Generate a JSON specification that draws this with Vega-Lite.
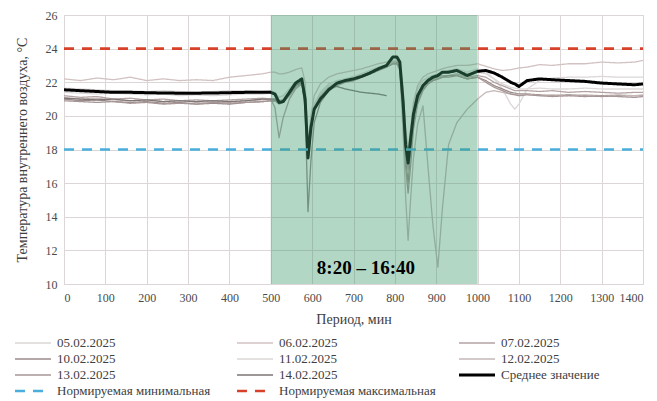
{
  "$schema": "https://vega.github.io/schema/vega-lite/v6.json",
  "width": 579,
  "height": 269,
  "autosize": {"type": "none"},
  "padding": {"left": 64, "top": 15, "right": 14, "bottom": 117},
  "background": "white",
  "config": {
    "font": "Liberation Serif",
    "view": {"stroke": "#d9d4d4", "strokeWidth": 1},
    "axis": {
      "labelFont": "Liberation Serif",
      "titleFont": "Liberation Serif",
      "labelFontSize": 12,
      "labelColor": "#4a4a4a",
      "titleColor": "#404040",
      "titleFontWeight": "normal",
      "titleFontSize": 14,
      "gridColor": "#ddd6d6",
      "gridWidth": 1,
      "domain": false,
      "ticks": false,
      "labelOverlap": false
    },
    "legend": {
      "title": null, "orient": "none", "legendX": -51, "legendY": 322, "columns": 3, "direction": "horizontal",
      "symbolType": "stroke", "symbolSize": 1300, "labelOffset": 4, "columnPadding": 21, "rowPadding": 3,
      "gridAlign": "all", "clipHeight": 12, "labelLimit": 0,
      "labelFont": "Liberation Serif", "labelFontSize": 13, "labelColor": "#404040"
    }
  },
  "datasets": {
    "series": [
      {"s":"05.02.2025","t":0,"v":21.65},{"s":"05.02.2025","t":40,"v":21.6},{"s":"05.02.2025","t":80,"v":21.55},{"s":"05.02.2025","t":120,"v":21.5},{"s":"05.02.2025","t":160,"v":21.5},{"s":"05.02.2025","t":200,"v":21.45},{"s":"05.02.2025","t":240,"v":21.5},{"s":"05.02.2025","t":280,"v":21.45},{"s":"05.02.2025","t":320,"v":21.4},{"s":"05.02.2025","t":360,"v":21.45},{"s":"05.02.2025","t":400,"v":21.5},{"s":"05.02.2025","t":440,"v":21.5},{"s":"05.02.2025","t":480,"v":21.45},{"s":"05.02.2025","t":500,"v":21.5},
      {"s":"05.02.2025","t":510,"v":21.4},{"s":"05.02.2025","t":520,"v":21.1},{"s":"05.02.2025","t":530,"v":21.2},{"s":"05.02.2025","t":545,"v":21.6},{"s":"05.02.2025","t":560,"v":22.0},{"s":"05.02.2025","t":575,"v":22.2},{"s":"05.02.2025","t":583,"v":21.2},{"s":"05.02.2025","t":590,"v":17.9},{"s":"05.02.2025","t":597,"v":19.6},{"s":"05.02.2025","t":605,"v":20.7},{"s":"05.02.2025","t":620,"v":21.4},{"s":"05.02.2025","t":640,"v":21.9},{"s":"05.02.2025","t":660,"v":22.1},{"s":"05.02.2025","t":680,"v":22.2},{"s":"05.02.2025","t":700,"v":22.35},{"s":"05.02.2025","t":720,"v":22.5},{"s":"05.02.2025","t":740,"v":22.7},{"s":"05.02.2025","t":760,"v":22.9},{"s":"05.02.2025","t":780,"v":23.0},{"s":"05.02.2025","t":795,"v":23.2},{"s":"05.02.2025","t":805,"v":23.2},{"s":"05.02.2025","t":812,"v":23.0},{"s":"05.02.2025","t":820,"v":21.2},{"s":"05.02.2025","t":826,"v":19.0},{"s":"05.02.2025","t":832,"v":17.9},{"s":"05.02.2025","t":838,"v":19.0},{"s":"05.02.2025","t":845,"v":20.6},{"s":"05.02.2025","t":855,"v":21.6},{"s":"05.02.2025","t":868,"v":22.1},{"s":"05.02.2025","t":880,"v":22.3},{"s":"05.02.2025","t":892,"v":22.4},{"s":"05.02.2025","t":904,"v":22.5},{"s":"05.02.2025","t":915,"v":22.6},{"s":"05.02.2025","t":930,"v":22.6},{"s":"05.02.2025","t":950,"v":22.7},{"s":"05.02.2025","t":975,"v":22.5},{"s":"05.02.2025","t":1000,"v":22.6},
      {"s":"05.02.2025","t":1020,"v":22.5},{"s":"05.02.2025","t":1040,"v":22.2},{"s":"05.02.2025","t":1060,"v":21.6},{"s":"05.02.2025","t":1080,"v":20.7},{"s":"05.02.2025","t":1090,"v":20.4},{"s":"05.02.2025","t":1100,"v":20.7},{"s":"05.02.2025","t":1120,"v":21.6},{"s":"05.02.2025","t":1150,"v":22.1},{"s":"05.02.2025","t":1180,"v":22.25},{"s":"05.02.2025","t":1220,"v":22.3},{"s":"05.02.2025","t":1260,"v":22.3},{"s":"05.02.2025","t":1300,"v":22.35},{"s":"05.02.2025","t":1340,"v":22.3},{"s":"05.02.2025","t":1380,"v":22.3},{"s":"05.02.2025","t":1400,"v":22.3},

      {"s":"06.02.2025","t":0,"v":22.2},{"s":"06.02.2025","t":40,"v":22.1},{"s":"06.02.2025","t":80,"v":22.25},{"s":"06.02.2025","t":120,"v":22.15},{"s":"06.02.2025","t":160,"v":22.3},{"s":"06.02.2025","t":200,"v":22.1},{"s":"06.02.2025","t":240,"v":22.2},{"s":"06.02.2025","t":280,"v":22.1},{"s":"06.02.2025","t":320,"v":22.15},{"s":"06.02.2025","t":360,"v":22.1},{"s":"06.02.2025","t":400,"v":22.3},{"s":"06.02.2025","t":440,"v":22.4},{"s":"06.02.2025","t":480,"v":22.5},{"s":"06.02.2025","t":500,"v":22.6},
      {"s":"06.02.2025","t":510,"v":22.6},{"s":"06.02.2025","t":520,"v":22.5},{"s":"06.02.2025","t":530,"v":22.5},{"s":"06.02.2025","t":545,"v":22.6},{"s":"06.02.2025","t":560,"v":22.75},{"s":"06.02.2025","t":575,"v":22.85},{"s":"06.02.2025","t":583,"v":22.0},{"s":"06.02.2025","t":590,"v":18.3},{"s":"06.02.2025","t":597,"v":20.0},{"s":"06.02.2025","t":605,"v":21.2},{"s":"06.02.2025","t":620,"v":21.9},{"s":"06.02.2025","t":640,"v":22.3},{"s":"06.02.2025","t":660,"v":22.5},{"s":"06.02.2025","t":680,"v":22.6},{"s":"06.02.2025","t":700,"v":22.7},{"s":"06.02.2025","t":720,"v":22.8},{"s":"06.02.2025","t":740,"v":22.95},{"s":"06.02.2025","t":760,"v":23.1},{"s":"06.02.2025","t":780,"v":23.2},{"s":"06.02.2025","t":795,"v":23.3},{"s":"06.02.2025","t":805,"v":23.3},{"s":"06.02.2025","t":812,"v":23.2},{"s":"06.02.2025","t":820,"v":21.6},{"s":"06.02.2025","t":826,"v":19.2},{"s":"06.02.2025","t":832,"v":18.0},{"s":"06.02.2025","t":838,"v":19.2},{"s":"06.02.2025","t":845,"v":20.8},{"s":"06.02.2025","t":855,"v":21.8},{"s":"06.02.2025","t":868,"v":22.3},{"s":"06.02.2025","t":880,"v":22.5},{"s":"06.02.2025","t":892,"v":22.6},{"s":"06.02.2025","t":904,"v":22.7},{"s":"06.02.2025","t":915,"v":22.8},{"s":"06.02.2025","t":930,"v":22.9},{"s":"06.02.2025","t":950,"v":23.0},{"s":"06.02.2025","t":975,"v":23.0},{"s":"06.02.2025","t":1000,"v":23.1},
      {"s":"06.02.2025","t":1020,"v":22.95},{"s":"06.02.2025","t":1040,"v":22.8},{"s":"06.02.2025","t":1060,"v":22.7},{"s":"06.02.2025","t":1080,"v":22.75},{"s":"06.02.2025","t":1090,"v":22.8},{"s":"06.02.2025","t":1100,"v":22.85},{"s":"06.02.2025","t":1120,"v":22.9},{"s":"06.02.2025","t":1150,"v":23.05},{"s":"06.02.2025","t":1180,"v":23.0},{"s":"06.02.2025","t":1220,"v":23.1},{"s":"06.02.2025","t":1260,"v":23.1},{"s":"06.02.2025","t":1300,"v":23.2},{"s":"06.02.2025","t":1340,"v":23.15},{"s":"06.02.2025","t":1380,"v":23.2},{"s":"06.02.2025","t":1400,"v":23.3},

      {"s":"07.02.2025","t":0,"v":21.2},{"s":"07.02.2025","t":40,"v":21.1},{"s":"07.02.2025","t":80,"v":21.15},{"s":"07.02.2025","t":120,"v":21.0},{"s":"07.02.2025","t":160,"v":21.05},{"s":"07.02.2025","t":200,"v":20.95},{"s":"07.02.2025","t":240,"v":21.0},{"s":"07.02.2025","t":280,"v":20.9},{"s":"07.02.2025","t":320,"v":20.95},{"s":"07.02.2025","t":360,"v":20.9},{"s":"07.02.2025","t":400,"v":20.95},{"s":"07.02.2025","t":440,"v":21.0},{"s":"07.02.2025","t":480,"v":21.05},{"s":"07.02.2025","t":500,"v":21.0},
      {"s":"07.02.2025","t":510,"v":20.5},{"s":"07.02.2025","t":520,"v":18.7},{"s":"07.02.2025","t":530,"v":19.9},{"s":"07.02.2025","t":545,"v":21.0},{"s":"07.02.2025","t":560,"v":21.6},{"s":"07.02.2025","t":575,"v":21.9},{"s":"07.02.2025","t":583,"v":20.8},{"s":"07.02.2025","t":590,"v":17.8},{"s":"07.02.2025","t":597,"v":19.3},{"s":"07.02.2025","t":605,"v":20.4},{"s":"07.02.2025","t":620,"v":21.1},{"s":"07.02.2025","t":640,"v":21.6},{"s":"07.02.2025","t":660,"v":21.9},{"s":"07.02.2025","t":680,"v":22.0},{"s":"07.02.2025","t":700,"v":22.1},{"s":"07.02.2025","t":720,"v":22.3},{"s":"07.02.2025","t":740,"v":22.5},{"s":"07.02.2025","t":760,"v":22.7},{"s":"07.02.2025","t":780,"v":22.9},{"s":"07.02.2025","t":795,"v":23.1},{"s":"07.02.2025","t":805,"v":23.1},{"s":"07.02.2025","t":812,"v":22.9},{"s":"07.02.2025","t":820,"v":20.6},{"s":"07.02.2025","t":826,"v":18.0},{"s":"07.02.2025","t":832,"v":16.8},{"s":"07.02.2025","t":838,"v":18.3},{"s":"07.02.2025","t":845,"v":19.9},{"s":"07.02.2025","t":855,"v":21.0},{"s":"07.02.2025","t":868,"v":21.7},{"s":"07.02.2025","t":880,"v":22.0},{"s":"07.02.2025","t":892,"v":22.2},{"s":"07.02.2025","t":904,"v":22.3},{"s":"07.02.2025","t":915,"v":22.4},{"s":"07.02.2025","t":930,"v":22.4},{"s":"07.02.2025","t":950,"v":22.5},{"s":"07.02.2025","t":975,"v":22.3},{"s":"07.02.2025","t":1000,"v":22.4},
      {"s":"07.02.2025","t":1020,"v":22.3},{"s":"07.02.2025","t":1040,"v":22.0},{"s":"07.02.2025","t":1060,"v":21.8},{"s":"07.02.2025","t":1080,"v":21.6},{"s":"07.02.2025","t":1090,"v":21.5},{"s":"07.02.2025","t":1100,"v":21.5},{"s":"07.02.2025","t":1120,"v":21.5},{"s":"07.02.2025","t":1150,"v":21.45},{"s":"07.02.2025","t":1180,"v":21.5},{"s":"07.02.2025","t":1220,"v":21.4},{"s":"07.02.2025","t":1260,"v":21.45},{"s":"07.02.2025","t":1300,"v":21.4},{"s":"07.02.2025","t":1340,"v":21.35},{"s":"07.02.2025","t":1380,"v":21.4},{"s":"07.02.2025","t":1400,"v":21.4},

      {"s":"10.02.2025","t":0,"v":21.0},{"s":"10.02.2025","t":40,"v":20.9},{"s":"10.02.2025","t":80,"v":20.95},{"s":"10.02.2025","t":120,"v":20.85},{"s":"10.02.2025","t":160,"v":20.8},{"s":"10.02.2025","t":200,"v":20.85},{"s":"10.02.2025","t":240,"v":20.75},{"s":"10.02.2025","t":280,"v":20.8},{"s":"10.02.2025","t":320,"v":20.7},{"s":"10.02.2025","t":360,"v":20.75},{"s":"10.02.2025","t":400,"v":20.7},{"s":"10.02.2025","t":440,"v":20.8},{"s":"10.02.2025","t":480,"v":20.85},{"s":"10.02.2025","t":500,"v":20.9},
      {"s":"10.02.2025","t":510,"v":20.9},{"s":"10.02.2025","t":520,"v":20.8},{"s":"10.02.2025","t":530,"v":20.9},{"s":"10.02.2025","t":545,"v":21.3},{"s":"10.02.2025","t":560,"v":21.8},{"s":"10.02.2025","t":575,"v":22.0},{"s":"10.02.2025","t":583,"v":20.5},{"s":"10.02.2025","t":590,"v":14.3},{"s":"10.02.2025","t":597,"v":17.3},{"s":"10.02.2025","t":605,"v":19.6},{"s":"10.02.2025","t":620,"v":20.8},{"s":"10.02.2025","t":640,"v":21.5},{"s":"10.02.2025","t":660,"v":21.9},{"s":"10.02.2025","t":680,"v":22.1},{"s":"10.02.2025","t":700,"v":22.2},{"s":"10.02.2025","t":720,"v":22.4},{"s":"10.02.2025","t":740,"v":22.6},{"s":"10.02.2025","t":760,"v":22.8},{"s":"10.02.2025","t":780,"v":23.0},{"s":"10.02.2025","t":795,"v":23.2},{"s":"10.02.2025","t":805,"v":23.2},{"s":"10.02.2025","t":812,"v":22.9},{"s":"10.02.2025","t":820,"v":20.4},{"s":"10.02.2025","t":826,"v":17.5},{"s":"10.02.2025","t":832,"v":16.0},{"s":"10.02.2025","t":838,"v":17.8},{"s":"10.02.2025","t":845,"v":19.6},{"s":"10.02.2025","t":855,"v":20.9},{"s":"10.02.2025","t":868,"v":21.6},{"s":"10.02.2025","t":880,"v":21.9},{"s":"10.02.2025","t":892,"v":22.1},{"s":"10.02.2025","t":904,"v":22.2},{"s":"10.02.2025","t":915,"v":22.3},{"s":"10.02.2025","t":930,"v":22.4},{"s":"10.02.2025","t":950,"v":22.4},{"s":"10.02.2025","t":975,"v":22.2},{"s":"10.02.2025","t":1000,"v":22.3},
      {"s":"10.02.2025","t":1020,"v":22.1},{"s":"10.02.2025","t":1040,"v":21.8},{"s":"10.02.2025","t":1060,"v":21.6},{"s":"10.02.2025","t":1080,"v":21.4},{"s":"10.02.2025","t":1090,"v":21.35},{"s":"10.02.2025","t":1100,"v":21.3},{"s":"10.02.2025","t":1120,"v":21.3},{"s":"10.02.2025","t":1150,"v":21.25},{"s":"10.02.2025","t":1180,"v":21.2},{"s":"10.02.2025","t":1220,"v":21.25},{"s":"10.02.2025","t":1260,"v":21.2},{"s":"10.02.2025","t":1300,"v":21.15},{"s":"10.02.2025","t":1340,"v":21.2},{"s":"10.02.2025","t":1380,"v":21.2},{"s":"10.02.2025","t":1400,"v":21.2},

      {"s":"11.02.2025","t":0,"v":21.4},{"s":"11.02.2025","t":40,"v":21.35},{"s":"11.02.2025","t":80,"v":21.3},{"s":"11.02.2025","t":120,"v":21.35},{"s":"11.02.2025","t":160,"v":21.3},{"s":"11.02.2025","t":200,"v":21.25},{"s":"11.02.2025","t":240,"v":21.3},{"s":"11.02.2025","t":280,"v":21.2},{"s":"11.02.2025","t":320,"v":21.25},{"s":"11.02.2025","t":360,"v":21.2},{"s":"11.02.2025","t":400,"v":21.25},{"s":"11.02.2025","t":440,"v":21.3},{"s":"11.02.2025","t":480,"v":21.3},{"s":"11.02.2025","t":500,"v":21.35},
      {"s":"11.02.2025","t":510,"v":21.3},{"s":"11.02.2025","t":520,"v":21.1},{"s":"11.02.2025","t":530,"v":21.2},{"s":"11.02.2025","t":545,"v":21.6},{"s":"11.02.2025","t":560,"v":22.0},{"s":"11.02.2025","t":575,"v":22.2},{"s":"11.02.2025","t":583,"v":21.2},{"s":"11.02.2025","t":590,"v":18.0},{"s":"11.02.2025","t":597,"v":19.5},{"s":"11.02.2025","t":605,"v":20.6},{"s":"11.02.2025","t":620,"v":21.3},{"s":"11.02.2025","t":640,"v":21.8},{"s":"11.02.2025","t":660,"v":22.0},{"s":"11.02.2025","t":680,"v":22.2},{"s":"11.02.2025","t":700,"v":22.3},{"s":"11.02.2025","t":720,"v":22.5},{"s":"11.02.2025","t":740,"v":22.7},{"s":"11.02.2025","t":760,"v":22.9},{"s":"11.02.2025","t":780,"v":23.0},{"s":"11.02.2025","t":795,"v":23.3},{"s":"11.02.2025","t":805,"v":23.3},{"s":"11.02.2025","t":812,"v":23.1},{"s":"11.02.2025","t":820,"v":21.0},{"s":"11.02.2025","t":826,"v":18.6},{"s":"11.02.2025","t":832,"v":17.6},{"s":"11.02.2025","t":838,"v":18.8},{"s":"11.02.2025","t":845,"v":20.3},{"s":"11.02.2025","t":855,"v":21.3},{"s":"11.02.2025","t":868,"v":21.9},{"s":"11.02.2025","t":880,"v":22.2},{"s":"11.02.2025","t":892,"v":22.4},{"s":"11.02.2025","t":904,"v":22.5},{"s":"11.02.2025","t":915,"v":22.6},{"s":"11.02.2025","t":930,"v":22.7},{"s":"11.02.2025","t":950,"v":22.8},{"s":"11.02.2025","t":975,"v":22.6},{"s":"11.02.2025","t":1000,"v":22.8},
      {"s":"11.02.2025","t":1020,"v":22.6},{"s":"11.02.2025","t":1040,"v":22.2},{"s":"11.02.2025","t":1060,"v":21.9},{"s":"11.02.2025","t":1080,"v":21.7},{"s":"11.02.2025","t":1090,"v":21.65},{"s":"11.02.2025","t":1100,"v":21.6},{"s":"11.02.2025","t":1120,"v":21.6},{"s":"11.02.2025","t":1150,"v":21.65},{"s":"11.02.2025","t":1180,"v":21.6},{"s":"11.02.2025","t":1220,"v":21.6},{"s":"11.02.2025","t":1260,"v":21.65},{"s":"11.02.2025","t":1300,"v":21.6},{"s":"11.02.2025","t":1340,"v":21.6},{"s":"11.02.2025","t":1380,"v":21.6},{"s":"11.02.2025","t":1400,"v":21.6},

      {"s":"12.02.2025","t":0,"v":21.1},{"s":"12.02.2025","t":40,"v":21.0},{"s":"12.02.2025","t":80,"v":21.05},{"s":"12.02.2025","t":120,"v":20.95},{"s":"12.02.2025","t":160,"v":20.9},{"s":"12.02.2025","t":200,"v":20.95},{"s":"12.02.2025","t":240,"v":20.85},{"s":"12.02.2025","t":280,"v":20.9},{"s":"12.02.2025","t":320,"v":20.8},{"s":"12.02.2025","t":360,"v":20.85},{"s":"12.02.2025","t":400,"v":20.8},{"s":"12.02.2025","t":440,"v":20.9},{"s":"12.02.2025","t":480,"v":20.95},{"s":"12.02.2025","t":500,"v":21.0},
      {"s":"12.02.2025","t":510,"v":21.0},{"s":"12.02.2025","t":520,"v":20.9},{"s":"12.02.2025","t":530,"v":21.0},{"s":"12.02.2025","t":545,"v":21.4},{"s":"12.02.2025","t":560,"v":21.9},{"s":"12.02.2025","t":575,"v":22.1},{"s":"12.02.2025","t":583,"v":20.9},{"s":"12.02.2025","t":590,"v":18.0},{"s":"12.02.2025","t":597,"v":19.4},{"s":"12.02.2025","t":605,"v":20.5},{"s":"12.02.2025","t":620,"v":21.2},{"s":"12.02.2025","t":640,"v":21.7},{"s":"12.02.2025","t":660,"v":21.9},{"s":"12.02.2025","t":680,"v":22.1},{"s":"12.02.2025","t":700,"v":22.2},{"s":"12.02.2025","t":720,"v":22.4},{"s":"12.02.2025","t":740,"v":22.6},{"s":"12.02.2025","t":760,"v":22.8},{"s":"12.02.2025","t":780,"v":23.0},{"s":"12.02.2025","t":795,"v":23.2},{"s":"12.02.2025","t":805,"v":23.1},{"s":"12.02.2025","t":812,"v":22.7},{"s":"12.02.2025","t":820,"v":19.0},{"s":"12.02.2025","t":826,"v":15.2},{"s":"12.02.2025","t":832,"v":12.6},{"s":"12.02.2025","t":838,"v":15.0},{"s":"12.02.2025","t":845,"v":17.5},{"s":"12.02.2025","t":855,"v":19.5},{"s":"12.02.2025","t":868,"v":20.6},{"s":"12.02.2025","t":880,"v":17.0},{"s":"12.02.2025","t":892,"v":13.5},{"s":"12.02.2025","t":904,"v":11.0},{"s":"12.02.2025","t":915,"v":14.5},{"s":"12.02.2025","t":930,"v":18.3},{"s":"12.02.2025","t":950,"v":19.6},{"s":"12.02.2025","t":975,"v":20.4},{"s":"12.02.2025","t":1000,"v":21.0},
      {"s":"12.02.2025","t":1020,"v":21.4},{"s":"12.02.2025","t":1040,"v":21.5},{"s":"12.02.2025","t":1060,"v":21.4},{"s":"12.02.2025","t":1080,"v":21.3},{"s":"12.02.2025","t":1090,"v":21.3},{"s":"12.02.2025","t":1100,"v":21.25},{"s":"12.02.2025","t":1120,"v":21.3},{"s":"12.02.2025","t":1150,"v":21.2},{"s":"12.02.2025","t":1180,"v":21.25},{"s":"12.02.2025","t":1220,"v":21.2},{"s":"12.02.2025","t":1260,"v":21.25},{"s":"12.02.2025","t":1300,"v":21.2},{"s":"12.02.2025","t":1340,"v":21.25},{"s":"12.02.2025","t":1380,"v":21.2},{"s":"12.02.2025","t":1400,"v":21.25},

      {"s":"13.02.2025","t":0,"v":20.9},{"s":"13.02.2025","t":40,"v":20.85},{"s":"13.02.2025","t":80,"v":20.8},{"s":"13.02.2025","t":120,"v":20.85},{"s":"13.02.2025","t":160,"v":20.75},{"s":"13.02.2025","t":200,"v":20.8},{"s":"13.02.2025","t":240,"v":20.7},{"s":"13.02.2025","t":280,"v":20.75},{"s":"13.02.2025","t":320,"v":20.7},{"s":"13.02.2025","t":360,"v":20.8},{"s":"13.02.2025","t":400,"v":20.75},{"s":"13.02.2025","t":440,"v":20.8},{"s":"13.02.2025","t":480,"v":20.85},{"s":"13.02.2025","t":500,"v":20.9},
      {"s":"13.02.2025","t":510,"v":20.9},{"s":"13.02.2025","t":520,"v":20.7},{"s":"13.02.2025","t":530,"v":20.8},{"s":"13.02.2025","t":545,"v":21.2},{"s":"13.02.2025","t":560,"v":21.7},{"s":"13.02.2025","t":575,"v":21.9},{"s":"13.02.2025","t":583,"v":20.8},{"s":"13.02.2025","t":590,"v":17.7},{"s":"13.02.2025","t":597,"v":19.2},{"s":"13.02.2025","t":605,"v":20.3},{"s":"13.02.2025","t":620,"v":21.0},{"s":"13.02.2025","t":640,"v":21.5},{"s":"13.02.2025","t":660,"v":21.8},{"s":"13.02.2025","t":680,"v":22.0},{"s":"13.02.2025","t":700,"v":22.1},{"s":"13.02.2025","t":720,"v":22.3},{"s":"13.02.2025","t":740,"v":22.5},{"s":"13.02.2025","t":760,"v":22.7},{"s":"13.02.2025","t":780,"v":22.9},{"s":"13.02.2025","t":795,"v":23.1},{"s":"13.02.2025","t":805,"v":23.1},{"s":"13.02.2025","t":812,"v":22.8},{"s":"13.02.2025","t":820,"v":20.0},{"s":"13.02.2025","t":826,"v":17.0},{"s":"13.02.2025","t":832,"v":15.4},{"s":"13.02.2025","t":838,"v":17.0},{"s":"13.02.2025","t":845,"v":19.2},{"s":"13.02.2025","t":855,"v":20.7},{"s":"13.02.2025","t":868,"v":21.5},{"s":"13.02.2025","t":880,"v":21.9},{"s":"13.02.2025","t":892,"v":22.1},{"s":"13.02.2025","t":904,"v":22.2},{"s":"13.02.2025","t":915,"v":22.3},{"s":"13.02.2025","t":930,"v":22.3},{"s":"13.02.2025","t":950,"v":22.4},{"s":"13.02.2025","t":975,"v":22.2},{"s":"13.02.2025","t":1000,"v":22.3},
      {"s":"13.02.2025","t":1020,"v":22.0},{"s":"13.02.2025","t":1040,"v":21.7},{"s":"13.02.2025","t":1060,"v":21.5},{"s":"13.02.2025","t":1080,"v":21.3},{"s":"13.02.2025","t":1090,"v":21.25},{"s":"13.02.2025","t":1100,"v":21.2},{"s":"13.02.2025","t":1120,"v":21.25},{"s":"13.02.2025","t":1150,"v":21.2},{"s":"13.02.2025","t":1180,"v":21.15},{"s":"13.02.2025","t":1220,"v":21.2},{"s":"13.02.2025","t":1260,"v":21.15},{"s":"13.02.2025","t":1300,"v":21.2},{"s":"13.02.2025","t":1340,"v":21.15},{"s":"13.02.2025","t":1380,"v":21.1},{"s":"13.02.2025","t":1400,"v":21.15},

      {"s":"14.02.2025","t":0,"v":21.05},{"s":"14.02.2025","t":40,"v":21.0},{"s":"14.02.2025","t":80,"v":20.95},{"s":"14.02.2025","t":120,"v":21.0},{"s":"14.02.2025","t":160,"v":20.9},{"s":"14.02.2025","t":200,"v":20.95},{"s":"14.02.2025","t":240,"v":20.85},{"s":"14.02.2025","t":280,"v":20.9},{"s":"14.02.2025","t":320,"v":20.85},{"s":"14.02.2025","t":360,"v":20.9},{"s":"14.02.2025","t":400,"v":20.85},{"s":"14.02.2025","t":440,"v":20.9},{"s":"14.02.2025","t":480,"v":21.0},{"s":"14.02.2025","t":500,"v":21.0},
      {"s":"14.02.2025","t":510,"v":21.0},{"s":"14.02.2025","t":520,"v":20.8},{"s":"14.02.2025","t":530,"v":20.9},{"s":"14.02.2025","t":545,"v":21.3},{"s":"14.02.2025","t":560,"v":21.8},{"s":"14.02.2025","t":575,"v":22.0},{"s":"14.02.2025","t":583,"v":20.8},{"s":"14.02.2025","t":590,"v":17.8},{"s":"14.02.2025","t":597,"v":19.3},{"s":"14.02.2025","t":605,"v":20.4},{"s":"14.02.2025","t":620,"v":21.1},{"s":"14.02.2025","t":640,"v":21.65},{"s":"14.02.2025","t":660,"v":21.75},{"s":"14.02.2025","t":680,"v":21.6},{"s":"14.02.2025","t":700,"v":21.5},{"s":"14.02.2025","t":720,"v":21.4},{"s":"14.02.2025","t":740,"v":21.35},{"s":"14.02.2025","t":760,"v":21.3},{"s":"14.02.2025","t":780,"v":21.2},

      {"s":"Среднее значение","t":0,"v":21.55},{"s":"Среднее значение","t":40,"v":21.5},{"s":"Среднее значение","t":80,"v":21.45},{"s":"Среднее значение","t":120,"v":21.4},{"s":"Среднее значение","t":160,"v":21.4},{"s":"Среднее значение","t":200,"v":21.38},{"s":"Среднее значение","t":240,"v":21.36},{"s":"Среднее значение","t":280,"v":21.35},{"s":"Среднее значение","t":320,"v":21.35},{"s":"Среднее значение","t":360,"v":21.36},{"s":"Среднее значение","t":400,"v":21.38},{"s":"Среднее значение","t":440,"v":21.4},{"s":"Среднее значение","t":480,"v":21.4},{"s":"Среднее значение","t":500,"v":21.4},
      {"s":"Среднее значение","t":510,"v":21.3},{"s":"Среднее значение","t":520,"v":20.8},{"s":"Среднее значение","t":530,"v":20.85},{"s":"Среднее значение","t":545,"v":21.4},{"s":"Среднее значение","t":560,"v":21.95},{"s":"Среднее значение","t":575,"v":22.2},{"s":"Среднее значение","t":583,"v":21.0},{"s":"Среднее значение","t":590,"v":17.5},{"s":"Среднее значение","t":597,"v":19.3},{"s":"Среднее значение","t":605,"v":20.4},{"s":"Среднее значение","t":620,"v":21.0},{"s":"Среднее значение","t":640,"v":21.55},{"s":"Среднее значение","t":660,"v":21.95},{"s":"Среднее значение","t":680,"v":22.1},{"s":"Среднее значение","t":700,"v":22.2},{"s":"Среднее значение","t":720,"v":22.35},{"s":"Среднее значение","t":740,"v":22.55},{"s":"Среднее значение","t":760,"v":22.8},{"s":"Среднее значение","t":780,"v":23.0},{"s":"Среднее значение","t":795,"v":23.5},{"s":"Среднее значение","t":805,"v":23.5},{"s":"Среднее значение","t":812,"v":23.2},{"s":"Среднее значение","t":820,"v":20.8},{"s":"Среднее значение","t":826,"v":18.3},{"s":"Среднее значение","t":832,"v":17.2},{"s":"Среднее значение","t":838,"v":18.6},{"s":"Среднее значение","t":845,"v":20.1},{"s":"Среднее значение","t":855,"v":21.2},{"s":"Среднее значение","t":868,"v":21.8},{"s":"Среднее значение","t":880,"v":22.1},{"s":"Среднее значение","t":892,"v":22.3},{"s":"Среднее значение","t":904,"v":22.4},{"s":"Среднее значение","t":915,"v":22.6},{"s":"Среднее значение","t":930,"v":22.6},{"s":"Среднее значение","t":950,"v":22.7},{"s":"Среднее значение","t":975,"v":22.4},{"s":"Среднее значение","t":1000,"v":22.65},
      {"s":"Среднее значение","t":1020,"v":22.7},{"s":"Среднее значение","t":1040,"v":22.55},{"s":"Среднее значение","t":1060,"v":22.3},{"s":"Среднее значение","t":1080,"v":22.0},{"s":"Среднее значение","t":1090,"v":21.9},{"s":"Среднее значение","t":1100,"v":21.75},{"s":"Среднее значение","t":1120,"v":22.1},{"s":"Среднее значение","t":1150,"v":22.2},{"s":"Среднее значение","t":1180,"v":22.15},{"s":"Среднее значение","t":1220,"v":22.1},{"s":"Среднее значение","t":1260,"v":22.05},{"s":"Среднее значение","t":1300,"v":21.95},{"s":"Среднее значение","t":1340,"v":21.9},{"s":"Среднее значение","t":1380,"v":21.85},{"s":"Среднее значение","t":1400,"v":21.9},

      {"s":"Нормируемая минимальная","t":0,"v":18},{"s":"Нормируемая минимальная","t":1400,"v":18},
      {"s":"Нормируемая максимальная","t":0,"v":24},{"s":"Нормируемая максимальная","t":1400,"v":24}
    ]
  },
  "layer": [
    {
      "data": {"name": "series"},
      "mark": {"type": "line", "strokeJoin": "round"},
      "encoding": {
        "x": {"field": "t", "type": "quantitative", "scale": {"domain": [0, 1400], "nice": false},
              "axis": {"values": [0,100,200,300,400,500,600,700,800,900,1000,1100,1200,1300,1400], "format": "d", "title": "Период, мин", "grid": true, "labelPadding": 8, "titlePadding": 9, "labelOverlap": false}},
        "y": {"field": "v", "type": "quantitative", "scale": {"domain": [10, 26], "nice": false, "zero": false},
              "axis": {"values": [10,12,14,16,18,20,22,24,26], "tickCount": 9, "format": "d", "title": "Температура внутреннего воздуха, °C", "grid": true, "labelPadding": 7, "titlePadding": 16, "labelOverlap": false}},
        "color": {"field": "s", "type": "nominal",
          "scale": {
            "domain": ["05.02.2025","06.02.2025","07.02.2025","10.02.2025","11.02.2025","12.02.2025","13.02.2025","14.02.2025","Среднее значение","Нормируемая минимальная","Нормируемая максимальная"],
            "range": ["#dcd6d6","#d2c2c2","#b3a3a3","#9a8a8a","#ddd8d8","#c6b8b8","#a89797","#7f7676","#000000","#4aaedc","#d8402a"]
          }
        },
        "strokeDash": {"field": "s", "type": "nominal",
          "scale": {
            "domain": ["05.02.2025","06.02.2025","07.02.2025","10.02.2025","11.02.2025","12.02.2025","13.02.2025","14.02.2025","Среднее значение","Нормируемая минимальная","Нормируемая максимальная"],
            "range": [[1,0],[1,0],[1,0],[1,0],[1,0],[1,0],[1,0],[1,0],[1,0],[10,8],[10,8]]
          }
        },
        "strokeWidth": {"field": "s", "type": "nominal",
          "scale": {
            "type": "ordinal",
            "domain": ["05.02.2025","06.02.2025","07.02.2025","10.02.2025","11.02.2025","12.02.2025","13.02.2025","14.02.2025","Среднее значение","Нормируемая минимальная","Нормируемая максимальная"],
            "range": [1.3,1.3,1.3,1.3,1.3,1.3,1.3,1.3,3,2.6,2.6]
          }
        }
      }
    },
    {
      "data": {"values": [{"start": 500, "end": 1000}]},
      "mark": {"type": "rect", "color": "#3f9a6e", "opacity": 0.4},
      "encoding": {
        "x": {"field": "start", "type": "quantitative",
              "axis": {"values": [0,100,200,300,400,500,600,700,800,900,1000,1100,1200,1300,1400], "format": "d", "title": "Период, мин", "grid": true, "labelPadding": 8, "titlePadding": 9, "labelOverlap": false}},
        "x2": {"field": "end"}
      }
    },
    {
      "data": {"values": [{"t": 730, "v": 10.95, "label": "8:20 – 16:40"}]},
      "mark": {"type": "text", "font": "Liberation Serif", "fontSize": 19, "fontWeight": "bold", "color": "#000000"},
      "encoding": {
        "x": {"field": "t", "type": "quantitative",
              "axis": {"values": [0,100,200,300,400,500,600,700,800,900,1000,1100,1200,1300,1400], "format": "d", "title": "Период, мин", "grid": true, "labelPadding": 8, "titlePadding": 9, "labelOverlap": false}},
        "y": {"field": "v", "type": "quantitative",
              "axis": {"values": [10,12,14,16,18,20,22,24,26], "tickCount": 9, "format": "d", "title": "Температура внутреннего воздуха, °C", "grid": true, "labelPadding": 7, "titlePadding": 16, "labelOverlap": false}},
        "text": {"field": "label"}
      }
    }
  ]
}
